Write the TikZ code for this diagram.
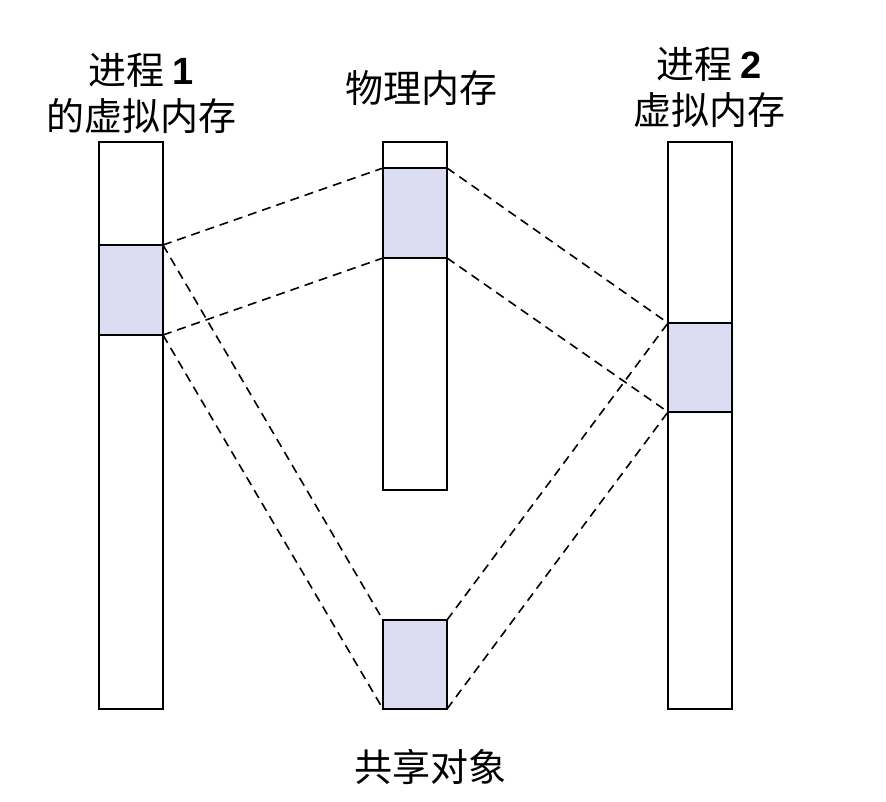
\documentclass[tikz,border=0pt]{standalone}
\usepackage{fontspec}
\setmainfont{Noto Sans CJK SC}
\newfontfamily\latfont{Liberation Sans}
\definecolor{shade}{RGB}{220,221,242}
\begin{document}
\begin{tikzpicture}[x=1pt,y=-1pt,
  col/.style={draw, line width=2pt, inner sep=0pt, outer sep=0pt, minimum width=64pt},
  seg/.style={col, fill=shade},
  link/.style={line width=1.6pt, dash pattern=on 9pt off 6pt},
  lbl/.style={font=\fontsize{38}{46}\selectfont, align=center, inner sep=0pt}]
\useasboundingbox (0,0) rectangle (886,801);
% left column
\node[col, minimum height=567pt] (L) at (131,425.5) {};
\node[seg, minimum height=90pt] (Ls) at (131,290) {};
% middle column
\node[col, minimum height=348pt] (M) at (415,316) {};
\node[seg, minimum height=90pt] (Ms) at (415,213) {};
% right column
\node[col, minimum height=567pt] (R) at (700,425.5) {};
\node[seg, minimum height=89pt] (Rs) at (700,367.5) {};
% shared object
\node[seg, minimum height=89pt] (S) at (415,664.5) {};
% dashed links
\draw[link] (Ls.north east) -- (Ms.north west);
\draw[link] (Ls.south east) -- (Ms.south west);
\draw[link] (Ls.north east) -- (S.north west);
\draw[link] (Ls.south east) -- (S.south west);
\draw[link] (Ms.north east) -- (Rs.north west);
\draw[link] (Ms.south east) -- (Rs.south west);
\draw[link] (S.north east) -- (Rs.north west);
\draw[link] (S.south east) -- (Rs.south west);
% labels
\node[lbl] (t1) at (141,93) {进程 {\latfont\bfseries 1}\\的虚拟内存};
\node[lbl] (t2) at (421,88) {物理内存};
\node[lbl] (t3) at (709,87) {进程 {\latfont\bfseries 2}\\虚拟内存};
\node[lbl] (t4) at (430,767) {共享对象};
\end{tikzpicture}
\end{document}
